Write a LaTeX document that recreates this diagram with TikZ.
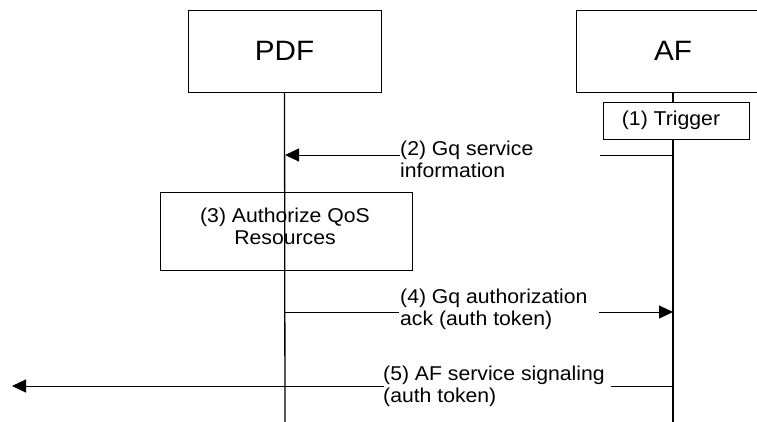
\documentclass[tikz,border=0pt]{standalone}
\usepackage{fontspec}
\setmainfont{Liberation Sans}[FakeStretch=1.06]
\usetikzlibrary{arrows.meta}
\newcommand{\msgtextL}[2]{\begin{tabular}[t]{@{}l@{}}#1\\#2\end{tabular}}
\newcommand{\msgtextC}[2]{\begin{tabular}[t]{@{}c@{}}#1\\#2\end{tabular}}
\begin{document}
\begin{tikzpicture}[x=1pt,y=-1pt,
  box/.style={draw, line width=1pt, rectangle, inner sep=0pt},
  bigfont/.style={font=\fontsize{28}{30}\selectfont},
  lblfont/.style={font=\fontsize{20}{22}\selectfont},
  lbl/.style={lblfont, inner sep=0pt, anchor=base west},
  msg/.style={line width=1pt},
  life/.style={line width=1.3pt},
  tip/.style={-{Triangle[length=14pt,width=13pt]}}]
\useasboundingbox (0,0) rectangle (757,421);
\fill[white] (0,0) rectangle (757,421);
\clip (0,0) rectangle (757,421);
% entities
\node[box, bigfont, minimum width=193pt, minimum height=82pt] (pdf) at (284.5,51) {PDF};
\node[box, bigfont, minimum width=194pt, minimum height=82pt] (af) at (673,51) {AF};
\coordinate (pdfend) at (285,425);
\coordinate (afend) at (673,425);
% (3) box
\node[box, minimum width=252pt, minimum height=78pt] (auth) at (286,231) {};
\node[lblfont, inner sep=0pt, anchor=base] (t3) at (285,222) {\msgtextC{(3) Authorize QoS}{Resources}};
% trigger
\node[box, fill=white, lblfont, minimum width=146pt, minimum height=37pt] (trig) at (676,120.5) {\hspace*{-10pt}(1) Trigger};
% lifelines
\draw[life] (pdf.south) -- (pdfend);
\draw[life] (af.south) -- (af.south |- trig.north);
\draw[life] (af.south |- trig.south) -- (afend);
% (2)
\node[lbl] (l2) at (400,155) {\msgtextL{(2) Gq service}{information}};
\coordinate (e2) at (600,155);
\draw[msg] (afend |- e2) -- (e2);
\draw[msg,tip] (l2.base west) -- (l2.base west -| pdfend);
% (4)
\node[lbl] (l4) at (400,303) {\msgtextL{(4) Gq authorization}{ack (auth token)}};
\coordinate (s4) at (399,312);
\coordinate (e4) at (599,312);
\draw[msg] (s4 -| pdfend) -- (s4);
\draw[msg,tip] (e4) -- (e4 -| afend);
% (5)
\node[lbl] (l5) at (383,380) {\msgtextL{(5) AF service signaling}{(auth token)}};
\coordinate (s5) at (384,386);
\coordinate (tip5) at (12,386);
\coordinate (e5) at (611,386);
\draw[msg,tip] (s5) -- (tip5);
\draw[msg] (afend |- e5) -- (e5);
\end{tikzpicture}
\end{document}
